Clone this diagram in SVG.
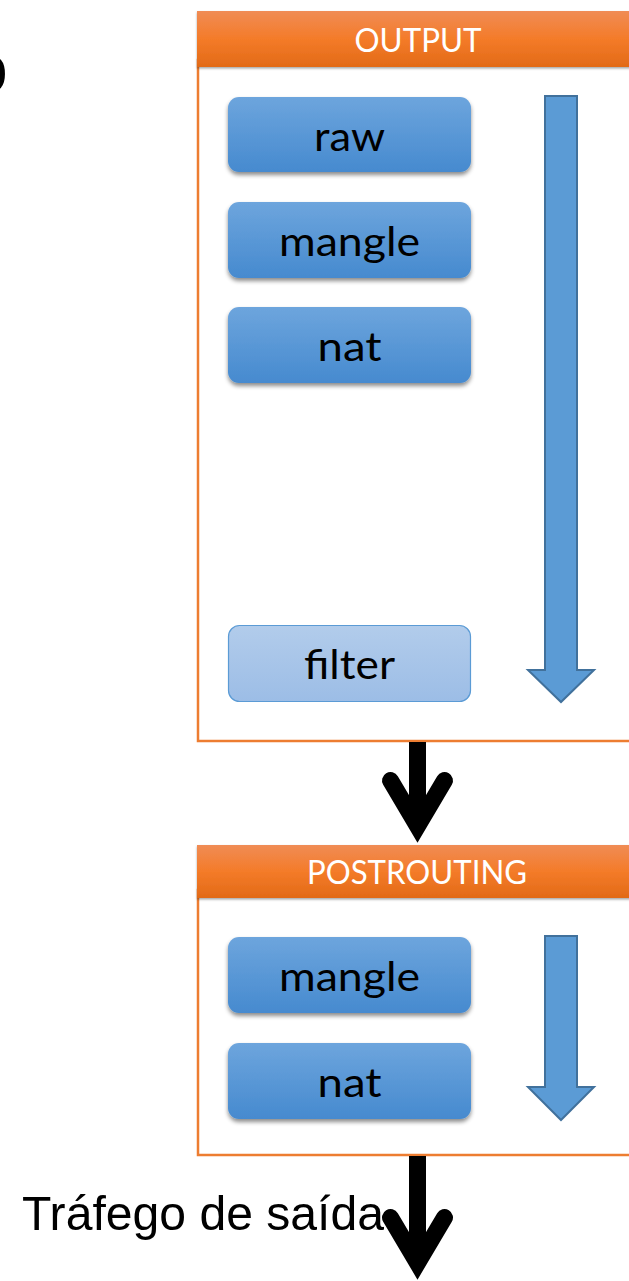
<svg xmlns="http://www.w3.org/2000/svg" width="629" height="1281" viewBox="0 0 629 1281">
<defs>
<linearGradient id="hdr" x1="0" y1="0" x2="0" y2="1">
<stop offset="0" stop-color="#F08C55"/>
<stop offset="0.5" stop-color="#F47B29"/>
<stop offset="1" stop-color="#E26A17"/>
</linearGradient>
<linearGradient id="btn" x1="0" y1="0" x2="0" y2="1">
<stop offset="0" stop-color="#6DA5DD"/>
<stop offset="1" stop-color="#468ACF"/>
</linearGradient>
<linearGradient id="btnl" x1="0" y1="0" x2="0" y2="1">
<stop offset="0" stop-color="#B2CCEB"/>
<stop offset="1" stop-color="#9CBDE6"/>
</linearGradient>
<filter id="sh" x="-10%" y="-20%" width="120%" height="150%">
<feDropShadow dx="0" dy="3" stdDeviation="2.2" flood-color="#000" flood-opacity="0.45"/>
</filter>
<filter id="hsh" x="-5%" y="-20%" width="110%" height="150%">
<feDropShadow dx="0" dy="1.5" stdDeviation="1.2" flood-color="#000" flood-opacity="0.35"/>
</filter>
</defs>
<style>
.frame{fill:#FFFFFF;stroke:#ED7D31;stroke-width:2.5}
.hdr{fill:url(#hdr)}
.htxt{font-family:Lato,"Open Sans","Liberation Sans",sans-serif;font-size:33px;fill:#FFFFFF;text-anchor:middle}
.btn{fill:url(#btn)}
.btnl{fill:url(#btnl);stroke:#5B9BD5;stroke-width:1.2}
.btxt{font-family:Lato,"Open Sans","Liberation Sans",sans-serif;font-size:41px;fill:#000000;text-anchor:middle}
.flow{fill:#5B9BD5;stroke:#41719C;stroke-width:2}
.conn{fill:none;stroke:#000000;stroke-width:17}
.lbl{font-family:"Liberation Sans",Arial,sans-serif;font-size:48px;fill:#000000}
.frag{font-family:"Liberation Sans",Arial,sans-serif;font-size:68px;fill:#000000}
</style>

<text class="frag" x="-30" y="92">o</text>

<g id="output">
<rect class="frame" x="198" y="60" width="450" height="681"/>
<rect class="hdr" x="197" y="11" width="450" height="56" filter="url(#hsh)"/>
<text class="htxt" x="418" y="52" textLength="127" lengthAdjust="spacingAndGlyphs">OUTPUT</text>
<path class="flow" d="M545,96 H577 V670 H594 L561,702 L528,670 H545 Z"/>
</g>

<g id="output-raw">
<rect class="btn" x="228" y="97" width="243" height="75" rx="11" filter="url(#sh)"/>
<text class="btxt" x="349.5" y="151" textLength="71" lengthAdjust="spacingAndGlyphs">raw</text>
</g>
<g id="output-mangle">
<rect class="btn" x="228" y="202" width="243" height="76" rx="11" filter="url(#sh)"/>
<text class="btxt" x="349.5" y="256" textLength="141" lengthAdjust="spacingAndGlyphs">mangle</text>
</g>
<g id="output-nat">
<rect class="btn" x="228" y="307" width="243" height="76" rx="11" filter="url(#sh)"/>
<text class="btxt" x="349.5" y="361" textLength="64" lengthAdjust="spacingAndGlyphs">nat</text>
</g>
<g id="output-filter">
<rect class="btnl" x="228.5" y="625.5" width="242" height="76" rx="11"/>
<text class="btxt" x="349.5" y="679" textLength="91" lengthAdjust="spacingAndGlyphs">filter</text>
</g>

<g id="postrouting">
<rect class="frame" x="198" y="890" width="450" height="265"/>
<rect class="hdr" x="197" y="845" width="450" height="53" filter="url(#hsh)"/>
<text class="htxt" x="417" y="884" textLength="220" lengthAdjust="spacingAndGlyphs">POSTROUTING</text>
<path class="flow" d="M545,936 H577 V1087 H594 L561,1120 L528,1087 H545 Z"/>
</g>

<g id="postrouting-mangle">
<rect class="btn" x="228" y="937" width="243" height="76" rx="11" filter="url(#sh)"/>
<text class="btxt" x="349.5" y="991" textLength="141" lengthAdjust="spacingAndGlyphs">mangle</text>
</g>
<g id="postrouting-nat">
<rect class="btn" x="228" y="1043" width="243" height="76" rx="11" filter="url(#sh)"/>
<text class="btxt" x="349.5" y="1097" textLength="64" lengthAdjust="spacingAndGlyphs">nat</text>
</g>

<g id="connectors">
<line class="conn" x1="417.5" y1="742" x2="417.5" y2="826" stroke-linecap="butt"/>
<polyline class="conn" points="390.5,780.5 417.5,826 444.5,780.5" stroke-linecap="round" stroke-linejoin="miter" stroke-miterlimit="10"/>
<line class="conn" x1="417.5" y1="1156" x2="417.5" y2="1263" stroke-linecap="butt"/>
<polyline class="conn" points="390.5,1217.5 417.5,1263 444.5,1217.5" stroke-linecap="round" stroke-linejoin="miter" stroke-miterlimit="10"/>
</g>

<text id="label-trafego" class="lbl" x="22" y="1230" textLength="362" lengthAdjust="spacingAndGlyphs">Tráfego de saída</text>
</svg>
